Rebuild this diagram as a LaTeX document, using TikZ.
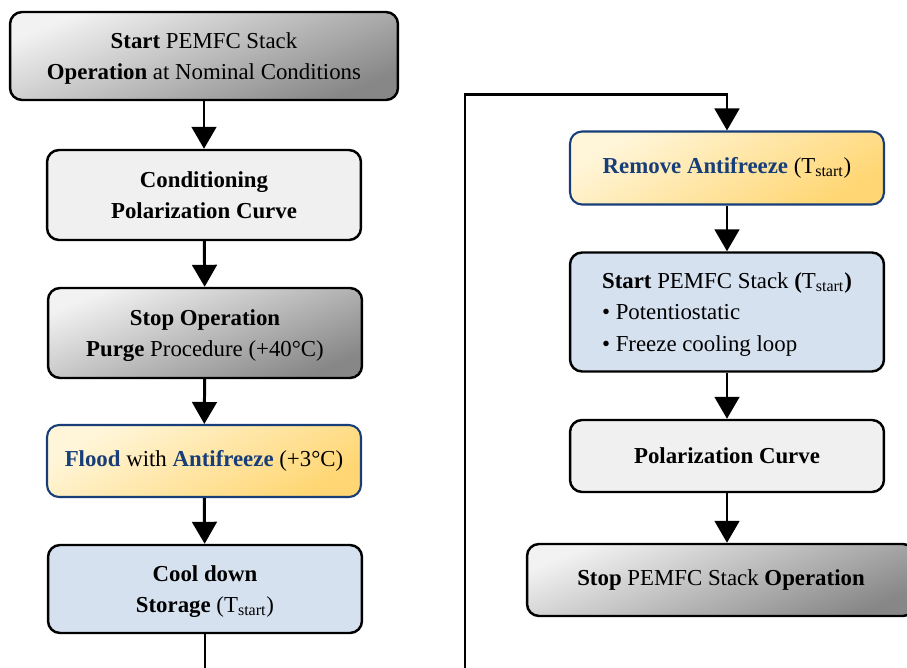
\documentclass[tikz,border=0pt]{standalone}
\usepackage{fontspec}
\setmainfont{Liberation Serif}
\usepackage{xcolor}
\usetikzlibrary{arrows.meta}

\definecolor{txtblue}{RGB}{23,62,120}
\definecolor{boxblueA}{RGB}{214,225,240}
\definecolor{boxblueB}{RGB}{168,192,224}
\definecolor{boxyelA}{RGB}{255,246,218}
\definecolor{boxyelB}{RGB}{255,214,115}
\definecolor{boxgrayA}{RGB}{242,242,242}
\definecolor{boxgrayB}{RGB}{206,206,206}
\definecolor{boxgrayC}{RGB}{135,135,135}
\definecolor{boxlight}{RGB}{240,240,240}

\begin{document}
\begin{tikzpicture}[x=0.02cm,y=-0.02cm,
		box/.style={
			draw=black,
			line width=1.4pt,
			rounded corners=0.24cm,
			align=center,
			minimum width=6.28cm,
			inner sep=2pt,
			font=\fontsize{13}{17.8}\selectfont,
		},
		multi/.style={text depth=0pt},
		graybox/.style={box, top color=boxgrayA, middle color=boxgrayB, bottom color=boxgrayC, shading angle=22},
		lightbox/.style={box, fill=boxlight},
		yelbox/.style={box, draw=txtblue, line width=1.2pt, top color=boxyelA, bottom color=boxyelB, shading angle=30},
		bluebox/.style={box, top color=boxblueA, middle color=boxblueB, bottom color=boxblueA},
		flow/.style={line width=1.7pt, -{Triangle[width=14pt,length=12.5pt]}},
		]
		\useasboundingbox (0,0) rectangle (907,667);
		\clip (0,0) rectangle (907,667);
		
		% left column
		\node[graybox, multi, minimum width=7.76cm, minimum height=1.76cm] (start) at (204,56)
			{\textbf{Start} PEMFC Stack\\\textbf{Operation} at Nominal Conditions};
		\node[lightbox, multi, minimum height=1.8cm] (cond) at (204,195)
			{\textbf{Conditioning}\\\textbf{Polarization Curve}};
		\node[graybox, multi, minimum height=1.8cm] (stop) at (205,333)
			{\textbf{Stop Operation}\\\textbf{Purge} Procedure (+40°C)};
		\node[yelbox, minimum height=1.44cm] (flood) at (204,461)
			{\textcolor{txtblue}{\textbf{Flood}} with \textcolor{txtblue}{\textbf{Antifreeze}} (+3°C)};
		\node[bluebox, multi, minimum height=1.76cm] (cool) at (205,589)
			{\textbf{Cool down}\\\textbf{Storage} (T\textsubscript{start})};
		
		% right column
		\node[yelbox, minimum height=1.46cm] (remove) at (727,168)
			{\textcolor{txtblue}{\textbf{Remove Antifreeze}} (T\textsubscript{start})};
		\node[bluebox, multi, align=left, minimum height=2.38cm] (restart) at (727,312)
			{\textbf{Start} PEMFC Stack \textbf{(}T\textsubscript{start}\textbf{)}\\
			 • Potentiostatic\\
			 • Freeze cooling loop};
		\node[lightbox, minimum height=1.44cm] (polcurve) at (727,456)
			{\textbf{Polarization Curve}};
		\node[graybox, minimum width=7.76cm, minimum height=1.44cm] (end) at (721,580)
			{\textbf{Stop} PEMFC Stack \textbf{Operation}};
		
		\draw[flow] (start) -- (cond);
		\draw[flow] (cond) -- (stop);
		\draw[flow] (stop) -- (flood);
		\draw[flow] (flood) -- (cool);
		
		% loop round to the second column
		\coordinate (loopL) at (205,700);
		\coordinate (loopR) at (465,700);
		\path (remove.north) ++(0,-36) coordinate (loopT);
		\draw[flow] (cool.south) -- (loopL) -- (loopR) |- (loopT) -- (remove.north);
		
		\draw[flow] (remove) -- (restart);
		\draw[flow] (restart) -- (polcurve);
		\draw[flow] (polcurve) -- (end.north -| polcurve);
	\end{tikzpicture}
\end{document}
